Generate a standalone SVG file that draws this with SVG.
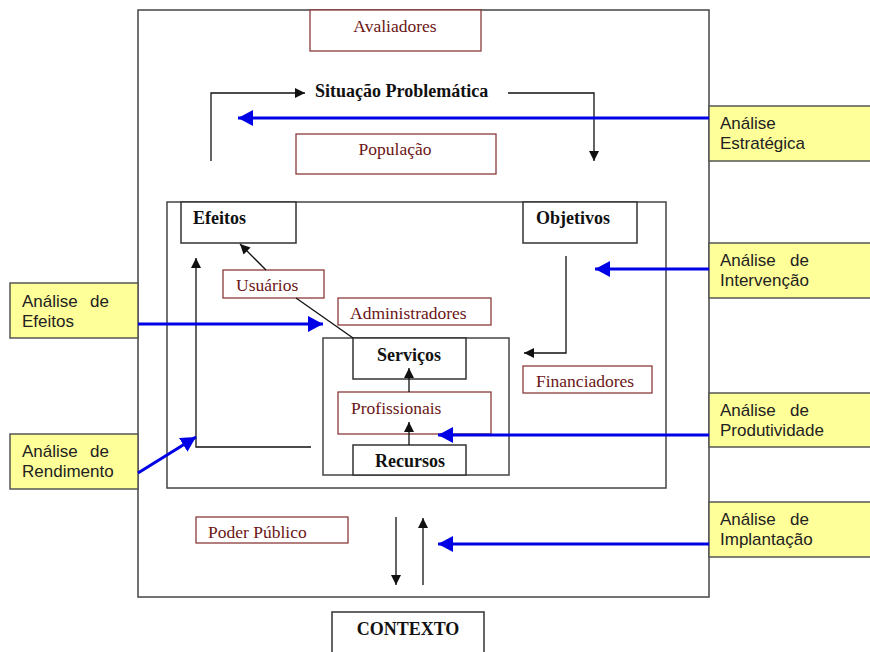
<svg xmlns="http://www.w3.org/2000/svg" width="870" height="652" viewBox="0 0 870 652">
<defs>
<style>
.frame{fill:none;stroke:#444;stroke-width:1.5}
.bx{fill:#fff;stroke:#333;stroke-width:1.5}
.rbx{fill:#fff;stroke:#8b3a3a;stroke-width:1.3}
.ybx{fill:#ffff99;stroke:#555;stroke-width:1.5}
.rt{font-family:"Liberation Serif","Times New Roman",serif;font-size:17.5px;fill:#6b1515}
.bt{font-family:"Liberation Serif","Times New Roman",serif;font-size:18px;font-weight:bold;fill:#111}
.yt{font-family:"Liberation Sans",Arial,sans-serif;font-size:17px;fill:#222}
.ln{fill:none;stroke:#111;stroke-width:1.3}
.bl{fill:none;stroke:#0000e6;stroke-width:3}
</style>
<marker id="ab" markerUnits="userSpaceOnUse" markerWidth="15" markerHeight="16" refX="15" refY="8" orient="auto"><path d="M0,0 L15,8 L0,16 z" fill="#0000e6"/></marker>
<marker id="ak" markerUnits="userSpaceOnUse" markerWidth="10" markerHeight="10" refX="10" refY="5" orient="auto"><path d="M0,0 L10,5 L0,10 z" fill="#111"/></marker>
</defs>
<rect x="0" y="0" width="870" height="652" fill="#fff"/>
<rect class="frame" x="138" y="10" width="571" height="587"/>
<rect class="frame" x="167" y="202" width="499" height="286"/>
<g id="container-servicos"><rect class="frame" x="323" y="338" width="186" height="137"/></g>

<g id="avaliadores"><rect class="rbx" x="310" y="10" width="171" height="41"/><text class="rt" x="395" y="32" text-anchor="middle">Avaliadores</text></g>
<g id="situacao"><text class="bt" x="315" y="97">Situação Problemática</text></g>
<g id="populacao"><rect class="rbx" x="296" y="134" width="200" height="40"/><text class="rt" x="395" y="155" text-anchor="middle">População</text></g>
<g id="efeitos"><rect class="bx" x="181" y="202" width="115" height="41"/><text class="bt" x="193" y="224">Efeitos</text></g>
<g id="objetivos"><rect class="bx" x="523" y="202" width="114" height="41"/><text class="bt" x="536" y="224">Objetivos</text></g>
<g id="usuarios"><rect class="rbx" x="223" y="270" width="101" height="28"/><text class="rt" x="236" y="291">Usuários</text></g>
<g id="administradores"><rect class="rbx" x="338" y="298" width="153" height="27"/><text class="rt" x="350" y="319">Administradores</text></g>
<g id="servicos"><rect class="bx" x="353" y="338" width="113" height="41"/><text class="bt" x="409" y="361" text-anchor="middle">Serviços</text></g>
<g id="financiadores"><rect class="rbx" x="523" y="366" width="129" height="27"/><text class="rt" x="536" y="387">Financiadores</text></g>
<g id="profissionais"><rect class="rbx" x="338" y="392" width="153" height="42"/><text class="rt" x="351" y="414">Profissionais</text></g>
<g id="recursos"><rect class="bx" x="353" y="445" width="113" height="30"/><text class="bt" x="410" y="467" text-anchor="middle">Recursos</text></g>
<g id="poder-publico"><rect class="rbx" x="196" y="517" width="152" height="26"/><text class="rt" x="208" y="538">Poder Público</text></g>
<g id="contexto"><rect class="bx" x="332" y="612" width="152" height="45"/><text class="bt" x="408" y="635" text-anchor="middle">CONTEXTO</text></g>

<g id="analise-estrategica"><rect class="ybx" x="709" y="106" width="165" height="55"/><text class="yt" x="720" y="129">Análise</text><text class="yt" x="720" y="149">Estratégica</text></g>
<g id="analise-intervencao"><rect class="ybx" x="709" y="243" width="165" height="55"/><text class="yt" y="266"><tspan x="720">Análise</tspan><tspan x="790">de</tspan></text><text class="yt" x="720" y="286">Intervenção</text></g>
<g id="analise-produtividade"><rect class="ybx" x="709" y="393" width="165" height="54"/><text class="yt" y="416"><tspan x="720">Análise</tspan><tspan x="790">de</tspan></text><text class="yt" x="720" y="436">Produtividade</text></g>
<g id="analise-implantacao"><rect class="ybx" x="709" y="502" width="165" height="55"/><text class="yt" y="525"><tspan x="720">Análise</tspan><tspan x="790">de</tspan></text><text class="yt" x="720" y="545">Implantação</text></g>
<g id="analise-efeitos"><rect class="ybx" x="10" y="283" width="128" height="55"/><text class="yt" y="307"><tspan x="22">Análise</tspan><tspan x="90">de</tspan></text><text class="yt" x="22" y="327">Efeitos</text></g>
<g id="analise-rendimento"><rect class="ybx" x="10" y="434" width="128" height="55"/><text class="yt" y="457"><tspan x="22">Análise</tspan><tspan x="90">de</tspan></text><text class="yt" x="22" y="477">Rendimento</text></g>

<g id="connectors">
<path class="ln" d="M211,161 V93 H305" marker-end="url(#ak)"/>
<path class="ln" d="M508,93 H594 V161" marker-end="url(#ak)"/>
<path class="ln" d="M566,256 V353 H524" marker-end="url(#ak)"/>
<path class="ln" d="M311,447 H196 V258" marker-end="url(#ak)"/>
<path class="ln" d="M266,270 L240,244" marker-end="url(#ak)"/>
<path class="ln" d="M296,298 L353,338"/>
<path class="ln" d="M409,445 V422" marker-end="url(#ak)"/>
<path class="ln" d="M409,392 V368" marker-end="url(#ak)"/>
<path class="ln" d="M396,517 V585" marker-end="url(#ak)"/>
<path class="ln" d="M423,585 V518" marker-end="url(#ak)"/>
<path class="bl" d="M709,118 H238" marker-end="url(#ab)"/>
<path class="bl" d="M709,269 H595" marker-end="url(#ab)"/>
<path class="bl" d="M709,435 H438" marker-end="url(#ab)"/>
<path class="bl" d="M709,544 H438" marker-end="url(#ab)"/>
<path class="bl" d="M138,324 H323" marker-end="url(#ab)"/>
<path class="bl" d="M138,473 L196,437" marker-end="url(#ab)"/>
</g>
</svg>
